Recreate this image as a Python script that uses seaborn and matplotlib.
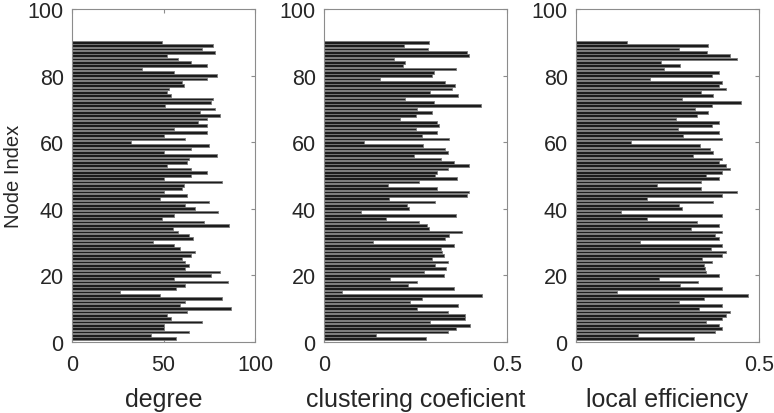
import matplotlib
matplotlib.use('Agg')
import matplotlib.pyplot as plt
import seaborn as sns
import numpy as np
import pandas as pd

# values listed from node 90 (top) down to node 1 (bottom)
degree = [49, 77, 71, 78, 52, 58, 65, 74, 38, 56, 79, 74, 60, 61, 53, 52, 54, 77, 76, 51,
          78, 70, 81, 74, 69, 74, 56, 74, 50, 62,
          32, 75, 65, 50, 79, 64, 63, 52, 65, 74, 65, 50, 82, 61, 60, 50, 63, 48, 75, 62,
          67, 80, 56, 49, 72, 86, 55, 58, 64, 66,
          44, 56, 59, 67, 65, 60, 62, 64, 62, 81, 76, 56, 85, 62, 57, 26, 48, 82, 62, 59,
          87, 63, 52, 54, 71, 50, 50, 64, 43, 57]

clustering = [0.287, 0.219, 0.284, 0.391, 0.396, 0.19, 0.221, 0.217, 0.362, 0.30,
              0.294, 0.154, 0.331, 0.358, 0.349, 0.29, 0.367, 0.22, 0.301, 0.43,
              0.254, 0.295, 0.251, 0.208, 0.309, 0.315, 0.251, 0.31, 0.267, 0.342,
              0.11, 0.271, 0.33, 0.338, 0.247, 0.32, 0.356, 0.396, 0.34, 0.308,
              0.303, 0.364, 0.26, 0.174, 0.308, 0.397, 0.39, 0.178, 0.303, 0.227,
              0.232, 0.10, 0.362, 0.169, 0.26, 0.281, 0.287, 0.376, 0.342, 0.33,
              0.135, 0.355, 0.32, 0.322, 0.327, 0.296, 0.34, 0.303, 0.334, 0.274,
              0.328, 0.18, 0.253, 0.23, 0.356, 0.05, 0.433, 0.269, 0.235, 0.365,
              0.253, 0.339, 0.385, 0.385, 0.29, 0.399, 0.361, 0.34, 0.141, 0.278]

efficiency = [0.138, 0.36, 0.281, 0.359, 0.42, 0.44, 0.232, 0.284, 0.241, 0.39,
              0.372, 0.202, 0.40, 0.39, 0.41, 0.341, 0.375, 0.289, 0.45, 0.372,
              0.325, 0.36, 0.33, 0.273, 0.39, 0.372, 0.278, 0.39, 0.293, 0.40,
              0.149, 0.339, 0.366, 0.375, 0.32, 0.40, 0.39, 0.41, 0.42, 0.40,
              0.354, 0.39, 0.341, 0.22, 0.342, 0.44, 0.40, 0.194, 0.375, 0.281,
              0.289, 0.123, 0.40, 0.193, 0.33, 0.39, 0.314, 0.40, 0.38, 0.39,
              0.175, 0.40, 0.37, 0.41, 0.40, 0.343, 0.372, 0.349, 0.352, 0.355,
              0.39, 0.227, 0.332, 0.284, 0.40, 0.111, 0.47, 0.349, 0.281, 0.40,
              0.336, 0.42, 0.41, 0.40, 0.355, 0.39, 0.40, 0.38, 0.17, 0.323]

nodes = list(range(90, 0, -1))

panels = [
    (degree, 'degree', (0, 100), [0, 50, 100], ['0', '50', '100']),
    (clustering, 'clustering coeficient', (0, 0.5), [0, 0.5], ['0', '0.5']),
    (efficiency, 'local efficiency', (0, 0.5), [0, 0.5], ['0', '0.5']),
]

sns.set_style('white')
plt.rcParams['font.family'] = ['Liberation Sans', 'DejaVu Sans']

fig = plt.figure(figsize=(7.74, 4.14), dpi=100)
lefts = [72 / 774, 324 / 774, 576 / 774]
grey = '#8c8c8c'

for i, (vals, label, xlim, xt, xtl) in enumerate(panels):
    ax = fig.add_axes([lefts[i], 1 - 343 / 414, 183 / 774, 333 / 414])
    df = pd.DataFrame({'node': nodes, 'value': vals})
    sns.barplot(data=df, x='value', y='node', orient='y', native_scale=True,
                color='#1c1c1c', saturation=1, width=0.8, edgecolor='#7a7a7a',
                linewidth=0.6, ax=ax, errorbar=None)
    ax.set_xlim(*xlim)
    ax.set_ylim(0, 100)
    ax.set_xticks(xt)
    ax.set_xticklabels(xtl)
    ax.set_yticks([0, 20, 40, 60, 80, 100])
    ax.set_yticklabels(['0', '20', '40', '60', '80', '100'])
    ax.tick_params(direction='in', length=3, color=grey, labelsize=15.5,
                   top=True, right=True, bottom=True, left=True)
    ax.tick_params(axis='x', pad=9)
    ax.tick_params(axis='y', pad=6)
    for s in ax.spines.values():
        s.set_color(grey)
        s.set_linewidth(0.8)
    ax.set_xlabel(label, fontsize=18, labelpad=8)
    if i == 0:
        ax.set_ylabel('Node Index', fontsize=14.5, labelpad=3)
    else:
        ax.set_ylabel('')

fig.savefig('out.png', dpi=100)
